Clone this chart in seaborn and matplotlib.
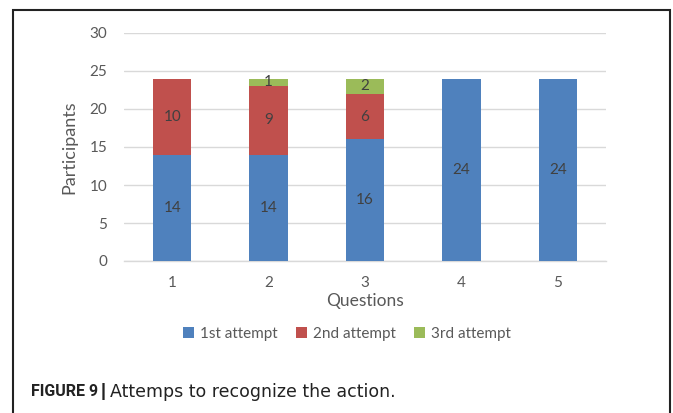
import numpy as np
import pandas as pd
import seaborn as sns
import matplotlib
matplotlib.use("Agg")
import matplotlib.pyplot as plt
from matplotlib.patches import Patch, Rectangle

# Participants per question, split by the attempt on which the action was recognised
questions = ["1", "2", "3", "4", "5"]
first_attempt = [14, 14, 16, 24, 24]
second_attempt = [10, 9, 6, 0, 0]
third_attempt = [0, 1, 2, 0, 0]
series_names = ["1st attempt", "2nd attempt", "3rd attempt"]
y_ticks = [0, 5, 10, 15, 20, 25, 30]

colors = ["#4F81BD", "#C0504D", "#9BBB59"]

sns.set_theme(style="white")
plt.rcParams["font.family"] = ["Lato", "DejaVu Sans"]

df = pd.DataFrame({
    "question": questions,
    "first": first_attempt,
    "second": second_attempt,
    "third": third_attempt,
})
df["upto_second"] = df["first"] + df["second"]
df["total"] = df["upto_second"] + df["third"]

W, H = 673, 413
fig = plt.figure(figsize=(W / 100, H / 100), dpi=100)
ax = fig.add_axes([124 / W, 1 - 261 / H, (606 - 124) / W, (261 - 33) / H])

# Stacked bars: draw cumulative totals back-to-front
for col, color in zip(["total", "upto_second", "first"], colors[::-1]):
    sns.barplot(data=df, x="question", y=col, color=color, width=0.4,
                saturation=1, ax=ax, linewidth=0, zorder=3)

# Segment value labels
label_color = "#404040"
bottoms = np.zeros(len(questions))
for vals in [first_attempt, second_attempt, third_attempt]:
    vals = np.asarray(vals, dtype=float)
    for i, v in enumerate(vals):
        if v > 0:
            ax.text(i, bottoms[i] + v / 2, f"{int(v)}", ha="center", va="center",
                    fontsize=11, color=label_color, zorder=5)
    bottoms += vals

ax.set_xlim(-0.5, len(questions) - 0.5)
ax.set_ylim(0, 30)
ax.set_yticks(y_ticks)
ax.yaxis.grid(True, color="#D9D9D9", linewidth=1, zorder=0)
ax.set_axisbelow(True)
for side in ["top", "right", "left"]:
    ax.spines[side].set_visible(False)
ax.spines["bottom"].set_color("#D9D9D9")
ax.spines["bottom"].set_linewidth(1)
ax.tick_params(axis="both", length=0, labelsize=11, labelcolor="#595959")
ax.tick_params(axis="y", pad=12)
ax.tick_params(axis="x", pad=11)
ax.set_xlabel("Questions", fontsize=12.5, color="#595959", labelpad=2)
ax.set_ylabel("Participants", fontsize=13, color="#595959", labelpad=9)

handles = [Patch(facecolor=c, edgecolor="none") for c in colors]
fig.legend(handles, series_names, loc="center", bbox_to_anchor=(347 / W, 1 - 334 / H),
           ncol=3, frameon=False, fontsize=11, handlelength=0.7, handleheight=0.7,
           handletextpad=0.4, columnspacing=1.2, labelcolor="#595959")

# Figure frame and caption
fig.patches.append(Rectangle((13 / W, -0.05), (670 - 13) / W, 1 - 9.5 / H + 0.05,
                             transform=fig.transFigure, fill=False,
                             edgecolor="#222222", linewidth=1.5, zorder=10))
cap_y = 1 - 392 / H
head = fig.text(31 / W, cap_y, "FIGURE 9", fontsize=11.5, fontweight="bold",
                family="Roboto", color="#222222", va="center", ha="left")
fig.canvas.draw()
head_end = head.get_window_extent().x1
bar = fig.text((head_end + 3) / W, cap_y, "|", fontsize=13, fontweight="bold",
               family="Liberation Sans", color="#222222", va="center", ha="left")
fig.canvas.draw()
bar_end = bar.get_window_extent().x1
fig.text((bar_end + 4) / W, cap_y, "Attemps to recognize the action.",
         fontsize=12.5, family="DejaVu Sans", color="#222222", va="center", ha="left")

fig.savefig("out.png", dpi=100, facecolor="white")
